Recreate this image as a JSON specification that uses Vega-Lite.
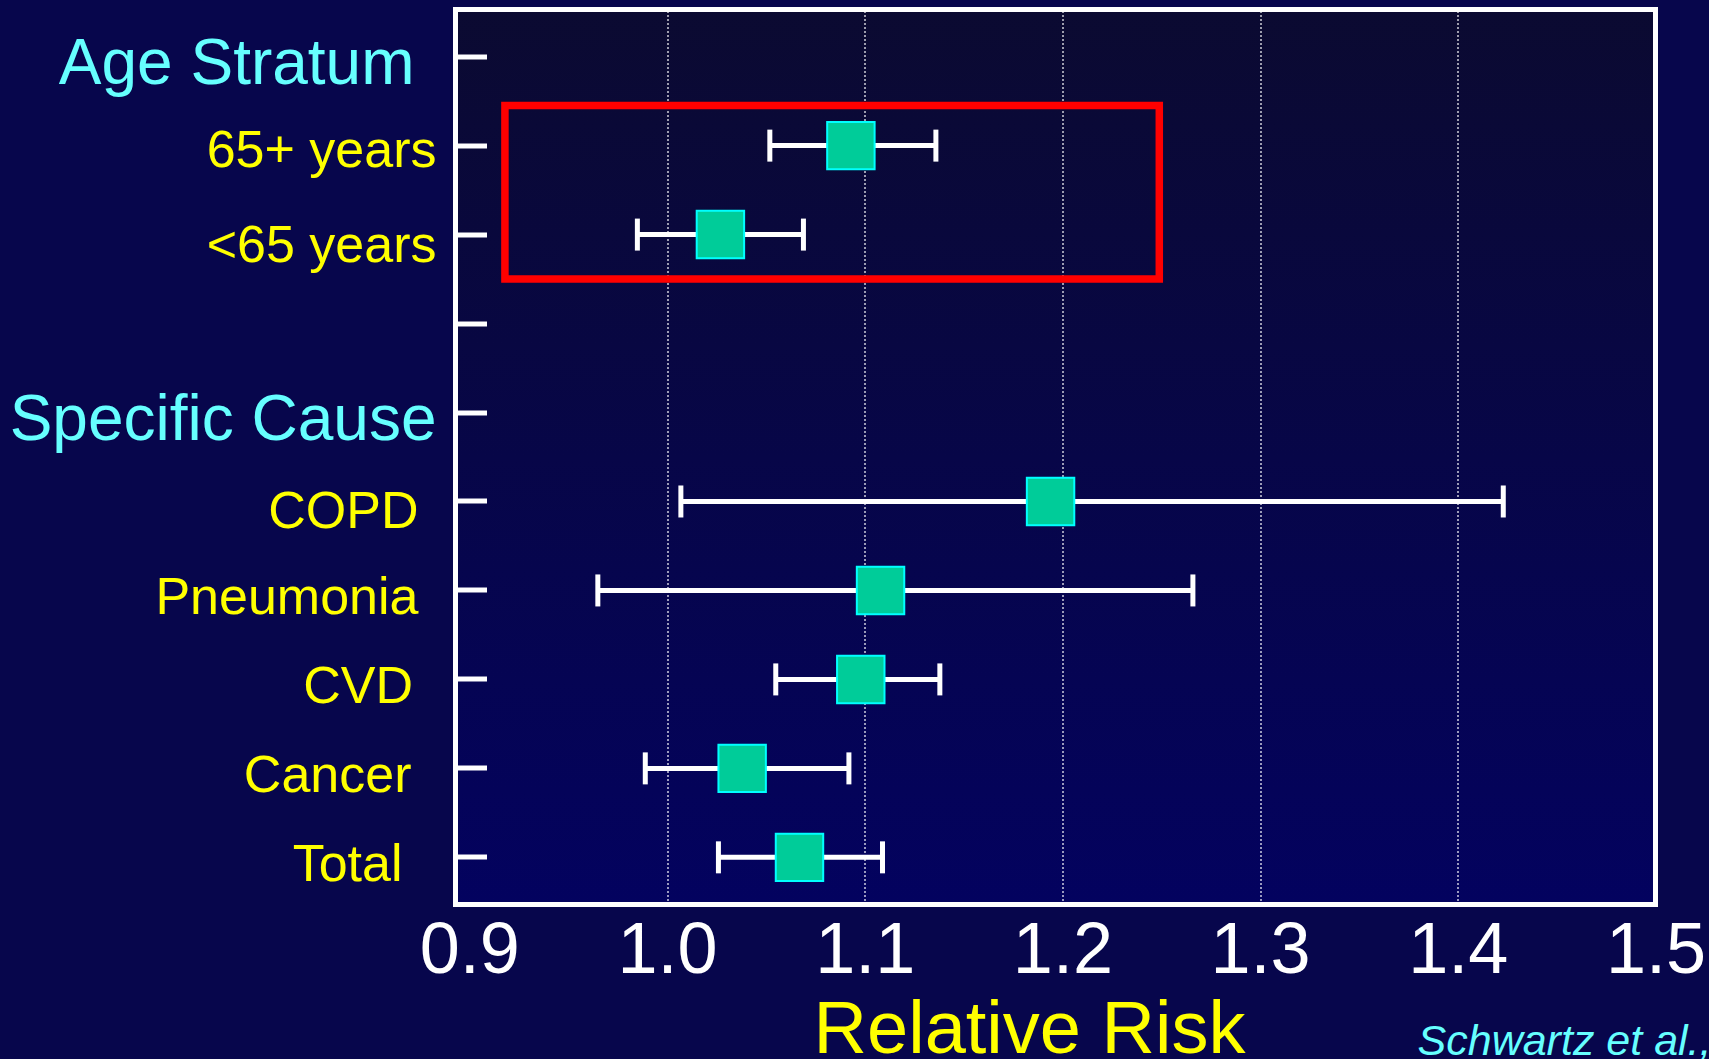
{
  "$schema": "https://vega.github.io/schema/vega-lite/v6.json",
  "width": 1200,
  "height": 895,
  "autosize": "none",
  "padding": {"left": 455.5, "top": 9.5, "right": 53.5, "bottom": 154.5},
  "background": "#07064c",
  "config": {
    "font": "Liberation Sans",
    "view": {
      "stroke": "#FFFFFF",
      "strokeWidth": 5,
      "fill": {"gradient": "linear", "x1": 0, "y1": 0, "x2": 0, "y2": 1,
        "stops": [{"offset": 0, "color": "#0b0a31"}, {"offset": 1, "color": "#03025f"}]}
    }
  },
  "title": {
    "text": "Schwartz et al.,",
    "orient": "bottom",
    "anchor": "end",
    "frame": "group",
    "color": "#66FFFF",
    "font": "Liberation Sans",
    "fontSize": 43,
    "fontStyle": "italic",
    "fontWeight": "normal",
    "baseline": "alphabetic",
    "offset": -12,
    "dx": 56
  },
  "datasets": {
    "estimates": [
      {"label": "65+ years", "rr": 1.093, "lo": 1.052, "hi": 1.136},
      {"label": "<65 years", "rr": 1.027, "lo": 0.985, "hi": 1.069},
      {"label": "COPD", "rr": 1.194, "lo": 1.007, "hi": 1.423},
      {"label": "Pneumonia", "rr": 1.108, "lo": 0.965, "hi": 1.266},
      {"label": "CVD", "rr": 1.098, "lo": 1.055, "hi": 1.138},
      {"label": "Cancer", "rr": 1.038, "lo": 0.989, "hi": 1.092},
      {"label": "Total", "rr": 1.067, "lo": 1.026, "hi": 1.109}
    ],
    "highlight": [
      {"label": "65+ years", "label2": "<65 years", "x0": 0.918, "x1": 1.249}
    ]
  },
  "encoding": {
    "y": {
      "field": "label",
      "type": "nominal",
      "scale": {
        "domain": ["Age Stratum", "65+ years", "<65 years", " ", "Specific Cause", "COPD", "Pneumonia", "CVD", "Cancer", "Total"],
        "paddingInner": 0,
        "paddingOuter": 0.03
      },
      "axis": {
        "title": null,
        "domain": false,
        "grid": false,
        "ticks": true,
        "tickColor": "#FFFFFF",
        "tickWidth": 5,
        "tickSize": -31,
        "labelFont": "Liberation Sans",
        "labelColor": {"condition": {"test": "datum.value == 'Age Stratum' || datum.value == 'Specific Cause'", "value": "#66FFFF"}, "value": "#FFFF00"},
        "labelFontSize": {"condition": {"test": "datum.value == 'Age Stratum' || datum.value == 'Specific Cause'", "value": 64}, "value": 52},
        "labelPadding": {"condition": [
          {"test": "datum.value == 'Age Stratum'", "value": 72.5},
          {"test": "datum.value == 'COPD' || datum.value == 'Pneumonia'", "value": 68.5},
          {"test": "datum.value == 'CVD'", "value": 74},
          {"test": "datum.value == 'Cancer'", "value": 75.5},
          {"test": "datum.value == 'Total'", "value": 84.5}
        ], "value": 50.5},
        "labelOffset": {"condition": [
          {"test": "datum.value == '<65 years' || datum.value == 'COPD'", "value": 11},
          {"test": "datum.value == '65+ years'", "value": 5}
        ], "value": 8},
        "labelBaseline": "middle",
        "labelAlign": "right",
        "labelLimit": 0,
        "labelOverlap": false,
        "labelBound": false
      }
    }
  },
  "layer": [
    {
      "data": {"name": "highlight"},
      "mark": {"type": "rect", "filled": false, "fill": null, "stroke": "#FF0000", "strokeWidth": 7.5},
      "encoding": {
        "x": {"field": "x0", "type": "quantitative", "scale": {"domain": [0.893, 1.5], "nice": false, "zero": false},
          "axis": {
            "title": "Relative Risk",
            "values": [0.9, 1.0, 1.1, 1.2, 1.3, 1.4, 1.5],
            "format": ".1f",
            "domain": false,
            "ticks": false,
            "grid": true,
            "gridColor": "#FFFFFF",
            "gridWidth": 1.2,
            "gridDash": [2, 2],
            "gridOpacity": {"condition": {"test": "datum.value < 0.95 || datum.value > 1.45", "value": 0}, "value": 1},
            "labelColor": "#FFFFFF",
            "labelFont": "Liberation Sans",
            "labelFontSize": 72,
            "labelPadding": 11,
            "labelFlush": false,
            "labelOverlap": false,
            "labelBound": false,
            "titleColor": "#FFFF00",
            "titleFont": "Liberation Sans",
            "titleFontSize": 74,
            "titleFontWeight": "normal",
            "titleX": 573.5,
            "titleY": 147.5,
            "titleBaseline": "alphabetic"
          }},
        "x2": {"field": "x1"},
        "y": {"field": "label", "type": "nominal", "bandPosition": 0.05, "title": null},
        "y2": {"field": "label2", "bandPosition": 1}
      }
    },
    {
      "data": {"name": "estimates"},
      "mark": {"type": "rule", "color": "#FFFFFF", "strokeWidth": 5},
      "encoding": {
        "x": {"field": "lo", "type": "quantitative", "scale": {"domain": [0.893, 1.5], "nice": false, "zero": false}, "title": "Relative Risk"},
        "x2": {"field": "hi"}
      }
    },
    {
      "data": {"name": "estimates"},
      "mark": {"type": "tick", "color": "#FFFFFF", "size": 32, "thickness": 5, "opacity": 1},
      "encoding": {
        "x": {"field": "lo", "type": "quantitative", "scale": {"domain": [0.893, 1.5], "nice": false, "zero": false}, "title": "Relative Risk"}
      }
    },
    {
      "data": {"name": "estimates"},
      "mark": {"type": "tick", "color": "#FFFFFF", "size": 32, "thickness": 5, "opacity": 1},
      "encoding": {
        "x": {"field": "hi", "type": "quantitative", "scale": {"domain": [0.893, 1.5], "nice": false, "zero": false}, "title": "Relative Risk"}
      }
    },
    {
      "data": {"name": "estimates"},
      "mark": {"type": "point", "shape": "square", "size": 2250, "filled": true, "fill": "#00CC99", "stroke": "#00FFFF", "strokeWidth": 2, "opacity": 1, "fillOpacity": 1},
      "encoding": {
        "x": {"field": "rr", "type": "quantitative", "scale": {"domain": [0.893, 1.5], "nice": false, "zero": false}, "title": "Relative Risk"}
      }
    }
  ]
}
